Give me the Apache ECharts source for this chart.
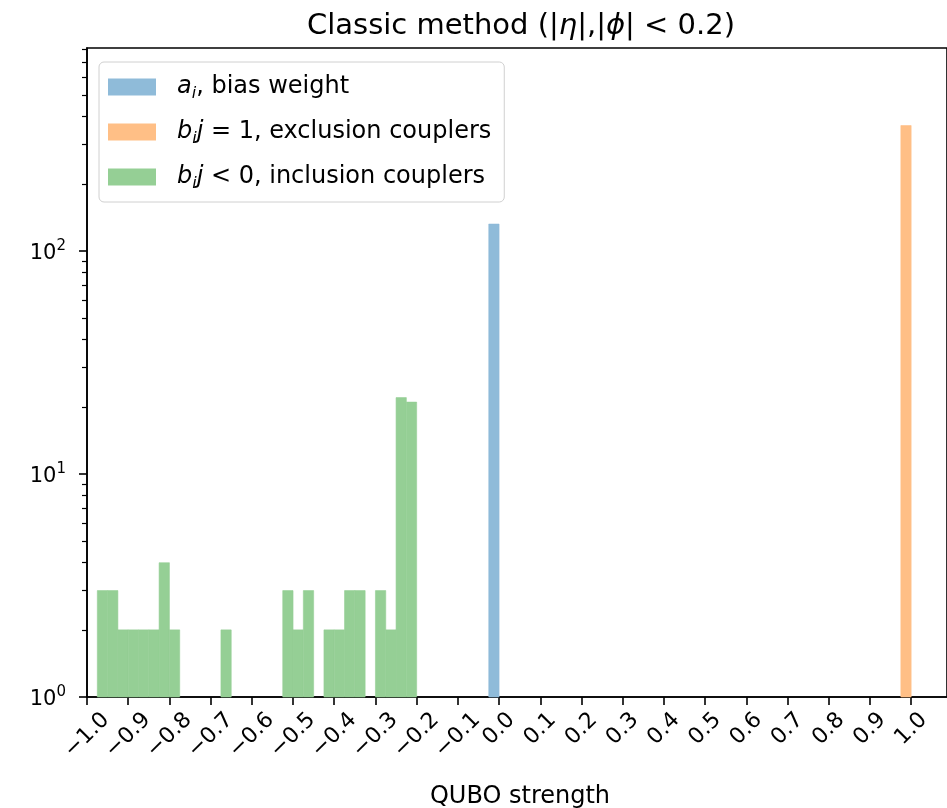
<!DOCTYPE html>
<html>
<head>
<meta charset="utf-8">
<title>Classic method</title>
<script src="https://cdn.jsdelivr.net/npm/echarts@6/dist/echarts.min.js"></script>
<style>
  html, body { margin: 0; padding: 0; background: #fff; }
  #chart { width: 947px; height: 808px; }
</style>
</head>
<body>
<div id="chart"></div>
<script>
// histogram bins: left edge of each bin, all bins are binWidth wide
const binWidth = 0.025;

// b_ij < 0, inclusion couplers
const inclusionLeft = [-0.975, -0.95, -0.925, -0.9, -0.875, -0.85, -0.825, -0.8, -0.775, -0.75,
  -0.725, -0.7, -0.675, -0.65, -0.625, -0.6, -0.575, -0.55, -0.525, -0.5,
  -0.475, -0.45, -0.425, -0.4, -0.375, -0.35, -0.325, -0.3, -0.275, -0.25, -0.225];
const inclusionCounts = [3, 3, 2, 2, 2, 2, 4, 2, 0, 0,
  0, 0, 2, 0, 0, 0, 0, 0, 3, 2,
  3, 0, 2, 2, 3, 3, 0, 3, 2, 22, 21];

// a_i, bias weight
const biasLeft = [-0.025];
const biasCounts = [132];

// b_ij = 1, exclusion couplers
const exclusionLeft = [0.975];
const exclusionCounts = [365];

// axis ticks
const xTicks = [-1.0, -0.9, -0.8, -0.7, -0.6, -0.5, -0.4, -0.3, -0.2, -0.1, 0.0,
  0.1, 0.2, 0.3, 0.4, 0.5, 0.6, 0.7, 0.8, 0.9, 1.0];
const yTicks = [1, 10, 100];
const yMinorTicks = [2, 3, 4, 5, 6, 7, 8, 9, 20, 30, 40, 50, 60, 70, 80, 90,
  200, 300, 400, 500, 600, 700, 800];

const FONT = 'DejaVu Sans';

function toBars(lefts, counts) {
  return lefts.map((l, i) => [l, l + binWidth, counts[i]]).filter(d => d[2] > 0);
}

// one histogram bin = rectangle from y=1 (bottom of the log axis) up to the count
function renderBin(params, api) {
  const base = api.coord([api.value(0), 1]);
  const top = api.coord([api.value(1), api.value(2)]);
  const color = api.visual('color');
  return {
    type: 'rect',
    shape: { x: base[0], y: top[1], width: top[0] - base[0], height: base[1] - top[1] },
    style: { fill: color, stroke: color, lineWidth: 0.6 }
  };
}

const chart = echarts.init(document.getElementById('chart'));

const legendText = {
  'bias': '{it|a}{sub|i}{r|, bias weight}',
  'exclusion': '{it|b}{sub|i}{it|j}{r| = 1, exclusion couplers}',
  'inclusion': '{it|b}{sub|i}{it|j}{r| < 0, inclusion couplers}'
};

const tickFont = { fontFamily: FONT, fontSize: 21, color: '#000' };
const xTickFont = { fontFamily: FONT, fontSize: 22, color: '#000' };

const option = {
  animation: false,
  backgroundColor: '#fff',
  title: {
    text: 'Classic method (|{i|η}|,|{i|ϕ}| < 0.2)',
    left: 516,
    top: 7,
    textAlign: 'center',
    textStyle: {
      fontFamily: FONT, fontSize: 29, fontWeight: 'normal', color: '#000',
      rich: { i: { fontFamily: FONT, fontSize: 29, fontStyle: 'italic', color: '#000' } }
    }
  },
  legend: {
    orient: 'vertical',
    left: 99,
    top: 62,
    padding: [13, 13, 10, 9],
    backgroundColor: '#fff',
    borderColor: '#d0d0d0',
    borderWidth: 1,
    borderRadius: 5,
    itemWidth: 48,
    itemHeight: 17,
    itemGap: 18,
    icon: 'rect',
    selectedMode: false,
    data: ['bias', 'exclusion', 'inclusion'],
    formatter: name => legendText[name],
    textStyle: {
      fontFamily: FONT, fontSize: 24, color: '#000',
      padding: [0, 0, 0, 16],
      rich: {
        r: { fontFamily: FONT, fontSize: 24, lineHeight: 30, color: '#000' },
        it: { fontFamily: FONT, fontSize: 24, lineHeight: 30, fontStyle: 'italic', color: '#000' },
        sub: { fontFamily: FONT, fontSize: 16, lineHeight: 15, verticalAlign: 'bottom', fontStyle: 'italic', color: '#000' }
      }
    }
  },
  grid: {
    left: 87, right: 0, top: 48, bottom: 111,
    containLabel: false,
    outerBoundsMode: 'none',
    show: true, borderColor: '#000', borderWidth: 1.6, backgroundColor: 'transparent'
  },
  xAxis: {
    type: 'value',
    min: -1.0,
    max: 1.087,
    name: 'QUBO strength',
    nameLocation: 'middle',
    nameGap: 88,
    nameTextStyle: { fontFamily: FONT, fontSize: 24, color: '#000', padding: [0, 0, 0, 6] },
    axisLine: { show: true, onZero: false, lineStyle: { color: '#000', width: 1.6 } },
    axisTick: { show: true, length: 8, customValues: xTicks, lineStyle: { color: '#000', width: 1.6 } },
    axisLabel: {
      customValues: xTicks,
      rotate: 45,
      align: 'center',
      verticalAlign: 'middle',
      margin: 32,
      ...xTickFont,
      // negative labels are longer: pad them so the rotated box top lines up
      formatter: v => v < -1e-9 ? '{neg|\u2212' + Math.abs(v).toFixed(1) + '}' : '{pos|' + v.toFixed(1) + '}',
      rich: {
        pos: { ...xTickFont },
        neg: { ...xTickFont, padding: [9, 9, 0, 0] }
      }
    },
    splitLine: { show: false }
  },
  yAxis: [{
    type: 'log',
    logBase: 10,
    min: 1,
    max: 813,
    axisLine: { show: true, onZero: false, lineStyle: { color: '#000', width: 1.6 } },
    axisTick: { show: true, length: 8, customValues: yTicks, lineStyle: { color: '#000', width: 1.6 } },
    axisLabel: {
      customValues: yTicks,
      margin: 21,
      padding: [6, 0, 0, 0],
      ...tickFont,
      formatter: v => '{n|10}{s|' + Math.round(Math.log10(v)) + '}',
      rich: {
        n: { ...tickFont, lineHeight: 30 },
        s: { fontFamily: FONT, fontSize: 15, lineHeight: 15, verticalAlign: 'top', color: '#000' }
      }
    },
    splitLine: { show: false }
  }, {
    // minor ticks only
    type: 'log',
    logBase: 10,
    min: 1,
    max: 813,
    position: 'left',
    axisLine: { show: false, onZero: false },
    axisTick: { show: true, length: 5, customValues: yMinorTicks, lineStyle: { color: '#000', width: 1.2 } },
    axisLabel: { show: false },
    splitLine: { show: false }
  }],
  series: [{
    name: 'bias',
    type: 'custom',
    renderItem: renderBin,
    encode: { x: [0, 1], y: 2 },
    itemStyle: { color: '#8fbbd9' },
    data: toBars(biasLeft, biasCounts)
  }, {
    name: 'exclusion',
    type: 'custom',
    renderItem: renderBin,
    encode: { x: [0, 1], y: 2 },
    itemStyle: { color: '#ffbf86' },
    data: toBars(exclusionLeft, exclusionCounts)
  }, {
    name: 'inclusion',
    type: 'custom',
    renderItem: renderBin,
    encode: { x: [0, 1], y: 2 },
    itemStyle: { color: '#95cf95' },
    data: toBars(inclusionLeft, inclusionCounts)
  }]
};

chart.setOption(option);
window.addEventListener('resize', () => chart.resize());
</script>
</body>
</html>
